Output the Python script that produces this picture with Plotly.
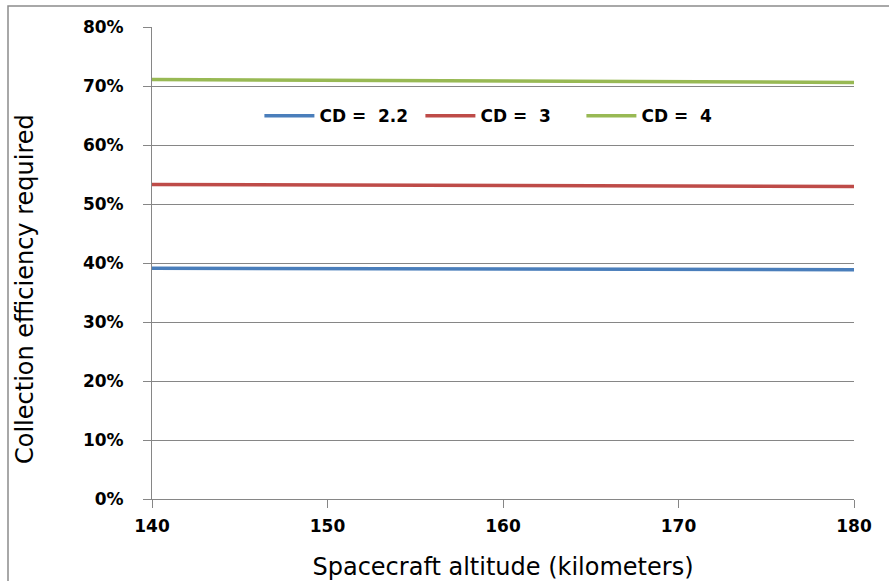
import plotly.graph_objects as go

altitude = [140, 150, 160, 170, 180]
cd_22 = [0.391, 0.3905, 0.390, 0.3895, 0.3885]
cd_3 = [0.533, 0.5325, 0.5315, 0.5305, 0.5295]
cd_4 = [0.711, 0.710, 0.709, 0.708, 0.706]
names = ["CD =  2.2", "CD =  3", "CD =  4"]
colors = ["#4a7ebb", "#be4b48", "#98b954"]

FONT = "DejaVu Sans"
fig = go.Figure()
for ys, nm, c in zip([cd_22, cd_3, cd_4], names, colors):
    fig.add_trace(go.Scatter(x=altitude, y=ys, name=nm, mode="lines",
                             line=dict(color=c, width=3.5)))

fig.update_layout(
    width=889, height=581,
    margin=dict(l=152, r=35, t=27, b=82),
    plot_bgcolor="white", paper_bgcolor="white",
    font=dict(family=FONT, color="#000000"),
    showlegend=True,
    legend=dict(orientation="h", x=0.153, y=0.811, xanchor="left", yanchor="middle",
                font=dict(family=FONT, size=17, color="#000", weight="bold"),
                bgcolor="rgba(0,0,0,0)", itemwidth=50,
                entrywidth=96, entrywidthmode="pixels"),
    xaxis=dict(range=[140, 180], tickvals=[140, 150, 160, 170, 180],
               automargin=False,
               showgrid=False, zeroline=False, showline=True, linecolor="#868686",
               linewidth=1, ticks="outside", ticklen=8, tickcolor="#868686",
               ticklabelstandoff=4,
               tickfont=dict(family=FONT, size=17, weight="bold"),
               title=dict(text="Spacecraft altitude (kilometers)",
                          font=dict(family=FONT, size=24), standoff=22)),
    yaxis=dict(range=[0, 0.8], dtick=0.1, tickformat=".0%",
               automargin=False,
               showgrid=True, gridcolor="#868686", gridwidth=1,
               zeroline=False, showline=True, linecolor="#868686", linewidth=1,
               ticks="outside", ticklen=8, tickcolor="#868686",
               ticklabelstandoff=16,
               tickfont=dict(family=FONT, size=17, weight="bold")),
)
fig.add_annotation(text="Collection efficiency required", textangle=-90,
                   xref="paper", yref="paper", x=(25 - 152) / 702, y=(499 - 289) / 472,
                   xanchor="center", yanchor="middle", showarrow=False,
                   font=dict(family=FONT, size=24, color="#000"))
fig.add_shape(type="rect", xref="paper", yref="paper",
              x0=(8 - 152) / 702, x1=1.1, y0=-0.3, y1=1 + (27 - 6) / 472,
              line=dict(color="#8c8c8c", width=1.5), layer="below")
fig.write_html("out.html")
